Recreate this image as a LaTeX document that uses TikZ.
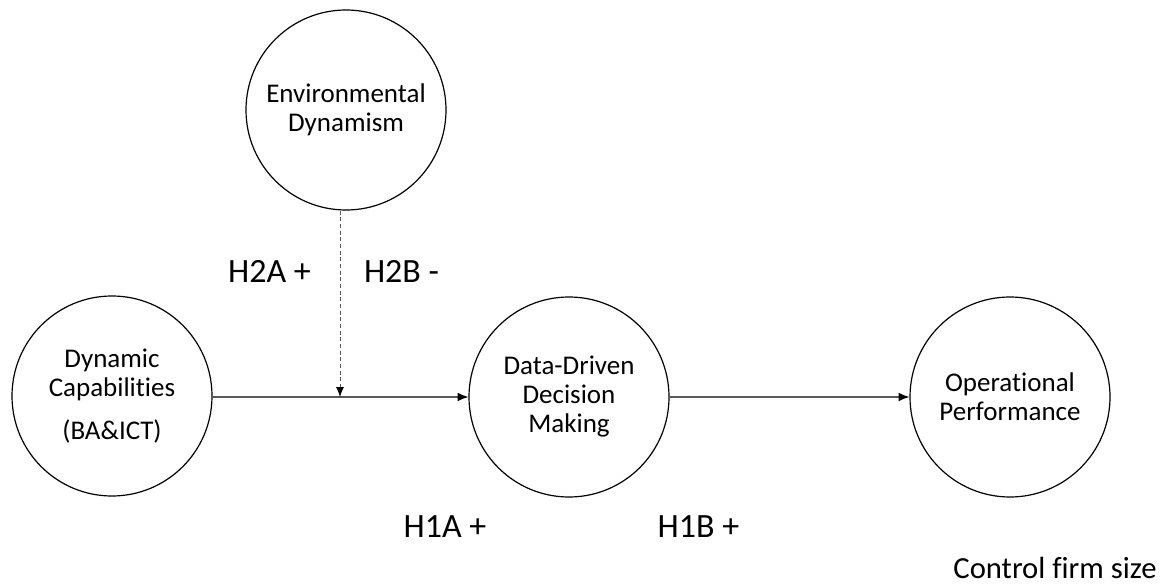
\documentclass[tikz,border=0pt]{standalone}
\usepackage{fontspec}
\setmainfont[Ligatures={NoCommon}]{Carlito}
\usetikzlibrary{arrows.meta}
\begin{document}
\begin{tikzpicture}[x=0.75pt,y=-0.75pt,
  construct/.style={draw=black,line width=0.9pt,circle,minimum size=150pt,inner sep=0pt,align=center,
    font=\fontsize{20.25}{21.75}\selectfont},
  hyp/.style={anchor=base,font=\fontsize{25.5}{28}\selectfont},
  path/.style={draw=black!65,line width=0.8pt,-{Latex[length=8pt,width=6.5pt,color=black]}},
  modpath/.style={draw=black!65,line width=0.6pt,dash pattern=on 3pt off 2pt,-{Latex[length=7.5pt,width=6pt,color=black]}}]
\useasboundingbox (0,0) rectangle (1170,585);
\node[construct] (env) at (346,110) {Environmental\\Dynamism};
\node[construct] (dc) at (112,396) {Dynamic\\Capabilities\\[10pt](BA\&ICT)};
\node[construct] (dddm) at (569,397) {Data-Driven\\Decision\\Making};
\node[construct] (op) at (1010,397) {Operational\\Performance};
\coordinate (mod) at (340,397);
\draw[path] (dc.east |- mod) -- (dddm.west);
\draw[path] (dddm) -- (op);
\draw[modpath] (mod |- env.south) -- (mod);
\node[hyp] (h2a) at (269.5,282) {H2A +};
\node[hyp] (h2b) at (401.5,282) {H2B -};
\node[hyp] (h1a) at (445,537) {H1A +};
\node[hyp] (h1b) at (698.5,537) {H1B +};
\node[anchor=base,font=\fontsize{23}{26}\selectfont] (ctrl) at (1055,578) {Control f{}irm size};
\end{tikzpicture}
\end{document}
